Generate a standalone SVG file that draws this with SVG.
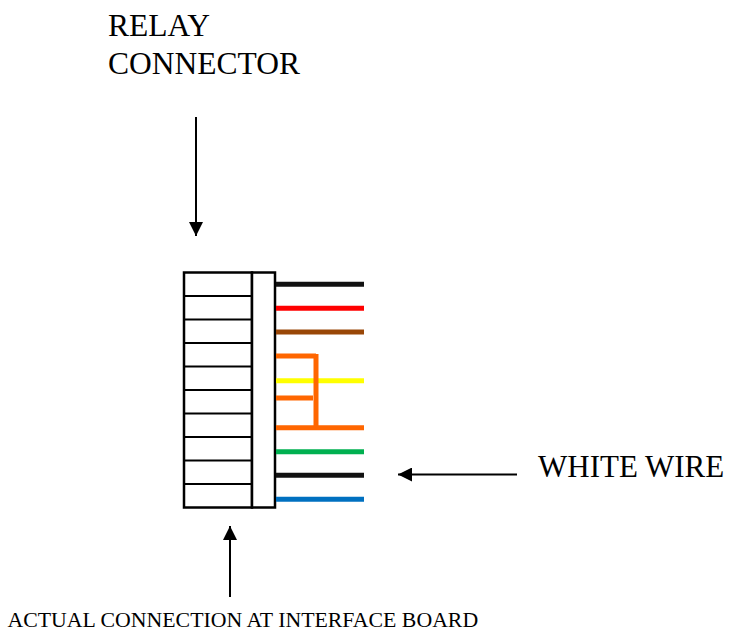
<svg xmlns="http://www.w3.org/2000/svg" width="736" height="635" viewBox="0 0 736 635">
<style>
  .arrow { stroke: #000; stroke-width: 2; fill: none; }
  .box { fill: #fff; stroke: #000; stroke-width: 2.5; }
  .row { stroke: #000; stroke-width: 2; }
  .wire { stroke-width: 5; fill: none; }
</style>
<defs>
  <marker id="ah" viewBox="0 0 10 10" refX="10" refY="5" markerWidth="7" markerHeight="7" orient="auto" markerUnits="strokeWidth">
    <path d="M0,0 L10,5 L0,10 Z" fill="#000"/>
  </marker>
</defs>
<rect width="736" height="635" fill="#fff"/>

<g id="relay-label">
  <text x="108" y="36" font-size="31.5" style="font-family: 'Liberation Serif', serif">RELAY</text>
  <text x="108" y="74" font-size="31.5" style="font-family: 'Liberation Serif', serif">CONNECTOR</text>
</g>

<g id="white-wire-label">
  <text x="538" y="477" font-size="31" style="font-family: 'Liberation Serif', serif">WHITE WIRE</text>
</g>

<g id="interface-label">
  <text x="7.5" y="627" font-size="21.8" style="font-family: 'Liberation Serif', serif">ACTUAL CONNECTION AT INTERFACE BOARD</text>
</g>

<g id="connector">
  <rect class="box" x="184" y="272.5" width="68" height="235"/>
  <rect class="box" x="252" y="272.5" width="23" height="235"/>
  <line class="row" x1="184" y1="296" x2="252" y2="296"/>
  <line class="row" x1="184" y1="319.5" x2="252" y2="319.5"/>
  <line class="row" x1="184" y1="343" x2="252" y2="343"/>
  <line class="row" x1="184" y1="366.5" x2="252" y2="366.5"/>
  <line class="row" x1="184" y1="390" x2="252" y2="390"/>
  <line class="row" x1="184" y1="413.5" x2="252" y2="413.5"/>
  <line class="row" x1="184" y1="437" x2="252" y2="437"/>
  <line class="row" x1="184" y1="460.5" x2="252" y2="460.5"/>
  <line class="row" x1="184" y1="484" x2="252" y2="484"/>
</g>

<g id="wires">
  <line class="wire" stroke="#111111" x1="276" y1="284.3" x2="364" y2="284.3"/>
  <line class="wire" stroke="#ff0000" x1="276" y1="308.3" x2="364" y2="308.3"/>
  <line class="wire" stroke="#994707" x1="276" y1="332" x2="364" y2="332"/>
  <line class="wire" stroke="#ffff00" x1="276" y1="380.7" x2="364" y2="380.7"/>
  <path class="wire" stroke="#ff6600" d="M276,356 H316 M276,398 H313 M316,354 V427.7 M276,427.7 H364"/>
  <line class="wire" stroke="#00b050" x1="276" y1="451.7" x2="364" y2="451.7"/>
  <line class="wire" stroke="#111111" x1="276" y1="475.3" x2="364" y2="475.3"/>
  <line class="wire" stroke="#0070c0" x1="276" y1="499.3" x2="364" y2="499.3"/>
</g>

<g id="connectors">
  <line class="arrow" x1="196" y1="117" x2="196" y2="236" marker-end="url(#ah)"/>
  <line class="arrow" x1="517" y1="474.5" x2="398" y2="474.5" marker-end="url(#ah)"/>
  <line class="arrow" x1="230" y1="597" x2="230" y2="526" marker-end="url(#ah)"/>
</g>
</svg>
